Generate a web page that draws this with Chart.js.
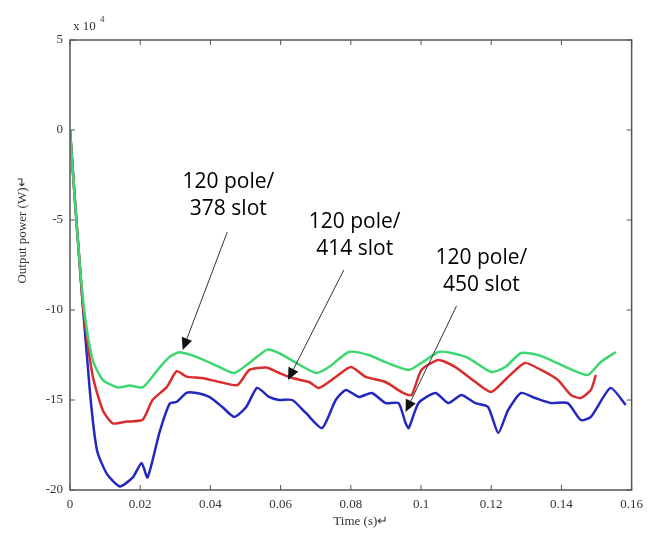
<!DOCTYPE html>
<html>
<head>
<meta charset="utf-8">
<script src="https://cdn.jsdelivr.net/npm/chart.js@4.4.0/dist/chart.umd.min.js"></script>
<style>
  html, body { margin: 0; padding: 0; background: #fff; }
  #wrap { width: 650px; height: 542px; }
</style>
</head>
<body>
<div id="wrap"><canvas id="chart"></canvas></div>
<script>
// time in s, output power in units of 10^4 W
const xTickValues = [0, 0.02, 0.04, 0.06, 0.08, 0.1, 0.12, 0.14, 0.16];
const yTickValues = [5, 0, -5, -10, -15, -20];

const t378 = [0, 0.0014, 0.0028, 0.0043, 0.0065, 0.0094, 0.0136, 0.0170, 0.0207, 0.0235, 0.0255, 0.0284, 0.0312,
    0.0369, 0.0426, 0.0468, 0.0511, 0.0562, 0.0596, 0.0644, 0.0701, 0.0738, 0.0794, 0.0851, 0.0899, 0.0965,
    0.1001, 0.1050, 0.1087, 0.1135, 0.1200, 0.1240, 0.1285, 0.1333, 0.1370, 0.1418, 0.1475, 0.1512, 0.1555];
const p378 = [0, -3.9, -7.5, -10.4, -12.8, -13.9, -14.3, -14.2, -14.3, -13.7, -13.2, -12.6, -12.35,
    -12.67, -13.17, -13.5, -12.94, -12.2, -12.4, -12.94, -13.5, -13.17, -12.33, -12.5, -12.9, -13.33,
    -12.94, -12.33, -12.39, -12.67, -13.44, -13.17, -12.39, -12.5, -12.78, -13.22, -13.61, -12.89, -12.33];

const t414 = [0, 0.0014, 0.0028, 0.0037, 0.0065, 0.0094, 0.0122, 0.0162, 0.0207, 0.0235, 0.0275, 0.0304, 0.0332,
    0.0377, 0.0426, 0.0477, 0.0511, 0.0559, 0.0596, 0.0633, 0.0681, 0.0709, 0.0757, 0.0800, 0.0843, 0.0899,
    0.0945, 0.0973, 0.1001, 0.1050, 0.1098, 0.1155, 0.1200, 0.1248, 0.1296, 0.1342, 0.1390, 0.1427, 0.1455,
    0.1484, 0.1498];
const p414 = [0, -3.9, -7.5, -9.8, -13.7, -15.6, -16.3, -16.2, -16.1, -15.0, -14.3, -13.4, -13.7,
    -13.78, -14.0, -14.17, -13.33, -13.2, -13.5, -13.78, -14.0, -14.33, -13.72, -13.17, -13.72, -14.0,
    -14.56, -14.72, -13.33, -12.78, -13.17, -14.0, -14.56, -13.72, -12.94, -13.33, -13.89, -14.72, -14.89,
    -14.44, -13.61];

const t450 = [0, 0.0014, 0.0028, 0.0057, 0.0077, 0.0105, 0.0142, 0.0179, 0.0204, 0.0221, 0.0255, 0.0284, 0.0304,
    0.0332, 0.0360, 0.0397, 0.0434, 0.0468, 0.0502, 0.0533, 0.0567, 0.0596, 0.0633, 0.0672, 0.0718, 0.0757,
    0.0786, 0.0823, 0.0860, 0.0899, 0.0936, 0.0956, 0.0965, 0.0993, 0.1041, 0.1078, 0.1115, 0.1155, 0.1191,
    0.1220, 0.1248, 0.1285, 0.1325, 0.1370, 0.1418, 0.1455, 0.1484, 0.1540, 0.1583];
const p450 = [0, -3.9, -7.6, -14.6, -17.8, -19.1, -19.8, -19.3, -18.5, -19.3, -16.8, -15.2, -15.1,
    -14.6, -14.61, -14.83, -15.39, -15.94, -15.39, -14.33, -14.83, -15.0, -15.0, -15.72, -16.56, -15.0,
    -14.44, -14.83, -14.61, -15.17, -15.17, -16.28, -16.56, -15.17, -14.61, -15.17, -14.72, -15.17, -15.39,
    -16.83, -15.56, -14.61, -14.89, -15.17, -15.17, -16.11, -15.94, -14.33, -15.28];

// callouts: text lines, text centre, arrow start, arrow tip (data units)
const notes = [
    { lines: ['120 pole/', '378 slot'], at: [0.0451, -2.89], from: [0.0448, -5.67], to: [0.0321, -12.22] },
    { lines: ['120 pole/', '414 slot'], at: [0.0811, -5.11], from: [0.0780, -7.78], to: [0.0621, -13.89] },
    { lines: ['120 pole/', '450 slot'], at: [0.1172, -7.11], from: [0.1101, -9.78], to: [0.0956, -15.67] },
];

const toPoints = (ts, ps) => ts.map((t, i) => ({ x: t, y: ps[i] }));

const line = (data, color) => ({
    data,
    borderColor: color,
    borderWidth: 2.5,
    pointRadius: 0,
    tension: 0.2,
    fill: false,
});

const decor = {
    id: 'decor',
    afterDraw(chart) {
        const { ctx, chartArea: a, scales: { x, y } } = chart;
        ctx.save();

        // frame + inward ticks
        ctx.strokeStyle = '#555';
        ctx.lineWidth = 1.5;
        ctx.strokeRect(a.left, a.top, a.right - a.left, a.bottom - a.top);
        ctx.lineWidth = 1;
        ctx.beginPath();
        x.ticks.forEach(t => {
            const px = x.getPixelForValue(t.value);
            ctx.moveTo(px, a.bottom); ctx.lineTo(px, a.bottom - 5);
            ctx.moveTo(px, a.top); ctx.lineTo(px, a.top + 5);
        });
        y.ticks.forEach(t => {
            const py = y.getPixelForValue(t.value);
            ctx.moveTo(a.left, py); ctx.lineTo(a.left + 5, py);
            ctx.moveTo(a.right, py); ctx.lineTo(a.right - 5, py);
        });
        ctx.stroke();

        // axis titles and exponent
        ctx.fillStyle = '#333';
        ctx.font = '13px "Liberation Serif"';
        ctx.textAlign = 'center';
        ctx.textBaseline = 'middle';
        ctx.fillText('Time (s)\u21B5', (a.left + a.right) / 2 + 10, 522);
        ctx.save();
        ctx.translate(23, 230);
        ctx.rotate(-Math.PI / 2);
        ctx.fillText('Output power (W)\u21B5', 0, 0);
        ctx.restore();
        ctx.textAlign = 'left';
        ctx.fillText('x 10', a.left + 3, 27);
        ctx.font = '9px "Liberation Serif"';
        ctx.fillText('4', a.left + 30, 20);

        // callouts
        ctx.strokeStyle = '#333';
        ctx.fillStyle = '#111';
        ctx.lineWidth = 1;
        notes.forEach(n => {
            const x0 = x.getPixelForValue(n.from[0]), y0 = y.getPixelForValue(n.from[1]);
            const x1 = x.getPixelForValue(n.to[0]), y1 = y.getPixelForValue(n.to[1]);
            const ang = Math.atan2(y1 - y0, x1 - x0);
            const hl = 12, hw = 5.5;
            const bx = x1 - hl * Math.cos(ang), by = y1 - hl * Math.sin(ang);
            ctx.beginPath();
            ctx.moveTo(x0, y0);
            ctx.lineTo(bx, by);
            ctx.stroke();
            ctx.beginPath();
            ctx.moveTo(x1, y1);
            ctx.lineTo(bx + hw * Math.sin(ang), by - hw * Math.cos(ang));
            ctx.lineTo(bx - hw * Math.sin(ang), by + hw * Math.cos(ang));
            ctx.closePath();
            ctx.fill();

            ctx.fillStyle = '#000';
            ctx.font = '21px "Open Sans"';
            ctx.textAlign = 'center';
            ctx.textBaseline = 'middle';
            const cx = x.getPixelForValue(n.at[0]), cy = y.getPixelForValue(n.at[1]);
            n.lines.forEach((s, i) => ctx.fillText(s, cx, cy + i * 27));
            ctx.fillStyle = '#111';
        });

        ctx.restore();
    },
};

new Chart(document.getElementById('chart'), {
    type: 'line',
    data: {
        datasets: [
            line(toPoints(t378, p378), 'rgb(60, 215, 110)'),
            line(toPoints(t414, p414), 'rgb(215, 45, 45)'),
            line(toPoints(t450, p450), 'rgb(35, 40, 190)'),
        ],
    },
    options: {
        responsive: true,
        maintainAspectRatio: false,
        animation: false,
        layout: { padding: { top: 40, right: 16, left: 0, bottom: 0 } },
        plugins: { legend: { display: false }, tooltip: { enabled: false } },
        scales: {
            x: {
                type: 'linear',
                min: 0,
                max: 0.16,
                afterBuildTicks: s => { s.ticks = xTickValues.map(v => ({ value: v })); },
                afterFit: s => { s.height = 52; },
                grid: { display: false, drawTicks: false },
                border: { display: false },
                ticks: {
                    padding: 7,
                    color: '#333',
                    font: { family: '"Liberation Serif"', size: 13 },
                    callback: v => String(Number(v.toFixed(2))),
                },
            },
            y: {
                min: -20,
                max: 5,
                afterBuildTicks: s => { s.ticks = yTickValues.map(v => ({ value: v })); },
                afterFit: s => { s.width = 70; },
                grid: { display: false, drawTicks: false },
                border: { display: false },
                ticks: {
                    padding: 7,
                    color: '#333',
                    font: { family: '"Liberation Serif"', size: 13 },
                },
            },
        },
    },
    plugins: [decor],
});
</script>
</body>
</html>
